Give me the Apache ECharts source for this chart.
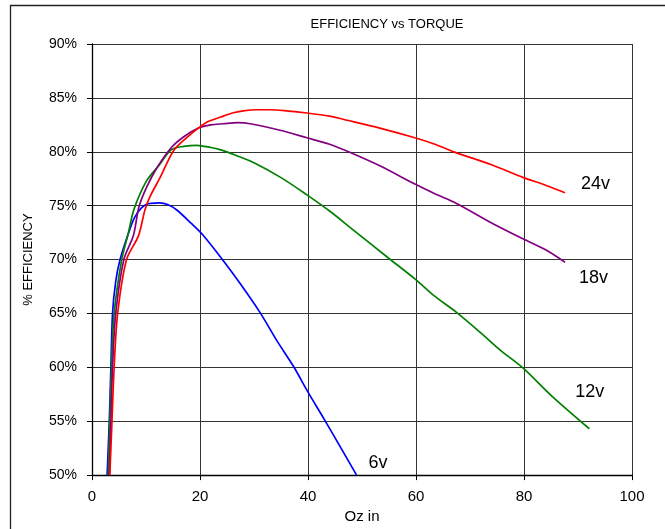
<!DOCTYPE html>
<html>
<head>
<meta charset="utf-8">
<script src="https://cdn.jsdelivr.net/npm/echarts@6/dist/echarts.min.js"></script>
<style>html,body{margin:0;padding:0;background:#fff;overflow:hidden}#c{width:665px;height:529px}</style>
</head>
<body>
<div id="c"></div>
<script>
var titleText = 'EFFICIENCY vs TORQUE';
var xName = 'Oz in';
var yName = '% EFFICIENCY';
var seriesNames = ['6v', '12v', '18v', '24v'];
var seriesColors = ['#0000ff', '#008000', '#800080', '#ff0000'];

var v6 = [[2.8,50],[3.2,55],[3.5,60],[3.8,65],[4.4,68],[5.2,70],[6.6,72.2],[8,74],[10,75.1],[12.5,75.25],[14,75.1],[15.7,74.6],[18.5,73.3],[20.5,72.3],[24,70.1],[27.4,67.8],[31.1,65.1],[34.2,62.5],[37.3,60.1],[40,57.7],[43.1,55.1],[49,50]];
var v12 = [[3.0,50],[3.3,55],[3.6,60],[4.1,65],[5.5,70],[6.7,72.4],[7.8,74.7],[10.1,77.3],[12.5,78.8],[14.7,80.2],[17,80.5],[19.4,80.6],[22,80.4],[23.7,80.2],[26.5,79.7],[29.9,79.0],[35,77.6],[39.8,76.0],[44,74.5],[48,72.9],[55,70.1],[59.8,68.2],[63.2,66.7],[67.5,65.1],[72,63.2],[75.6,61.6],[79.9,59.9],[85,57.4],[92.1,54.3]];
var v18 = [[3.2,50],[3.5,55],[3.8,60],[4.4,65],[5.9,70],[7.65,72.2],[8.7,74.9],[10.1,76.7],[12,78.5],[14.7,80.4],[17,81.4],[19.7,82.2],[22,82.5],[24.3,82.6],[27,82.7],[29.3,82.6],[34.8,82],[39.8,81.3],[44,80.7],[47.5,80],[53.3,78.7],[59.8,77],[63.5,76.1],[67.5,75.2],[74,73.4],[79.9,71.9],[84,70.9],[87.6,69.75]];
var v24 = [[3.3,50],[3.7,55],[4.1,60],[4.75,65],[6.4,70],[8.6,72.2],[9.8,74.6],[10.7,75.8],[12.6,77.6],[15.1,80.1],[17.5,81.3],[19.7,82.2],[21.5,82.8],[23.7,83.2],[26,83.6],[28,83.8],[30.5,83.9],[33,83.9],[36,83.8],[39.8,83.6],[44,83.3],[47.5,82.9],[53.3,82.2],[59.8,81.3],[63.5,80.7],[67.5,79.9],[74,78.8],[79.9,77.6],[84,76.9],[87.6,76.2]];

var seriesData = [v6, v12, v18, v24];
var labelOffsets = [[4,-12],[-22,-37],[6,16],[8,-9]];

var chart = echarts.init(document.getElementById('c'), null, {renderer: 'canvas', width: 665, height: 529});
var FONT = 'Liberation Sans, Arial, sans-serif';

var series = seriesData.map(function (d, i) {
  return {
    name: seriesNames[i],
    type: 'line',
    data: d,
    smooth: 0.3,
    showSymbol: false,
    symbol: 'none',
    lineStyle: {color: seriesColors[i], width: 1.7},
    itemStyle: {color: seriesColors[i]},
    z: 3 + i,
    endLabel: {
      show: true,
      formatter: seriesNames[i],
      color: '#000',
      fontFamily: FONT,
      fontSize: 18,
      offset: labelOffsets[i]
    }
  };
});

chart.setOption({
  animation: false,
  backgroundColor: '#fff',
  title: {
    text: titleText,
    left: 382,
    top: 13,
    textAlign: 'center',
    textStyle: {fontFamily: FONT, fontSize: 13, fontWeight: 'normal', color: '#000'}
  },
  graphic: [{
    type: 'rect',
    shape: {x: 10.5, y: 5.5, width: 800, height: 700},
    style: {fill: 'none', stroke: '#222', lineWidth: 1.3},
    z: -10
  }],
  grid: {left: 92, top: 44, width: 540, height: 440, containLabel: false},
  xAxis: {
    type: 'value',
    min: 0, max: 100, interval: 20,
    name: xName,
    nameLocation: 'middle',
    nameGap: 28,
    nameTextStyle: {fontFamily: FONT, fontSize: 15, color: '#000'},
    axisLine: {show: true, onZero: false, lineStyle: {color: '#000', width: 1.3}},
    axisTick: {show: true, length: 5, lineStyle: {color: '#000'}},
    axisLabel: {margin: 14, fontFamily: FONT, fontSize: 15, color: '#000'},
    splitLine: {show: true, lineStyle: {color: '#333', width: 1}}
  },
  yAxis: {
    type: 'value',
    min: 50, max: 90, interval: 5,
    name: yName,
    nameLocation: 'middle',
    nameGap: 57,
    nameRotate: 90,
    nameTextStyle: {fontFamily: FONT, fontSize: 13, color: '#000'},
    axisLine: {show: true, lineStyle: {color: '#000', width: 1.3}},
    axisTick: {show: true, length: 5, lineStyle: {color: '#000'}},
    axisLabel: {margin: 15, fontFamily: FONT, fontSize: 14, color: '#000', formatter: '{value}%'},
    splitLine: {show: true, lineStyle: {color: '#333', width: 1}}
  },
  series: series
});
</script>
</body>
</html>
